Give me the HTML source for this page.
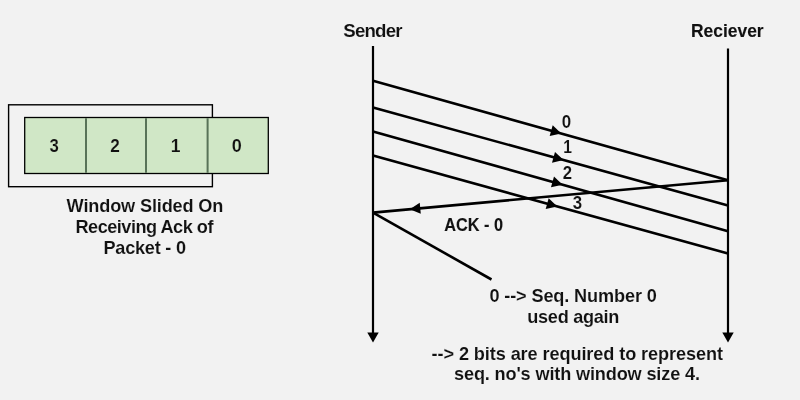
<!DOCTYPE html>
<html><head><meta charset="utf-8"><style>
html,body{margin:0;padding:0;background:#f2f2f2;}
svg{display:block;position:absolute;left:0;top:0;}
.tx{will-change:transform;}
text{font-family:"Liberation Sans", sans-serif;font-weight:700;fill:#111;stroke:#f2f2f2;stroke-width:0.1px;}
text.cell{stroke:#d0e7c6;stroke-width:0.15px;}
text.heavy{stroke:#111;stroke-width:0.12px;}
</style></head><body>
<svg width="800" height="400" viewBox="0 0 800 400">
<rect width="800" height="400" fill="#f2f2f2"/>
<line x1="373" y1="46" x2="373" y2="334" stroke="#000" stroke-width="2.2"/>
<polygon points="367.3,332.6 378.7,332.6 373,342.6" fill="#000"/>
<line x1="728" y1="48.5" x2="728" y2="334" stroke="#000" stroke-width="2.2"/>
<polygon points="722.3,332.6 733.7,332.6 728,342.6" fill="#000"/>
<line x1="373" y1="80.8" x2="728" y2="180.2" stroke="#000" stroke-width="2.6"/>
<line x1="373" y1="107.4" x2="728" y2="205.5" stroke="#000" stroke-width="2.6"/>
<line x1="373" y1="131.4" x2="728" y2="231.3" stroke="#000" stroke-width="2.6"/>
<line x1="373" y1="155.6" x2="728" y2="253.5" stroke="#000" stroke-width="2.6"/>
<line x1="728" y1="180.2" x2="373" y2="212.6" stroke="#000" stroke-width="2.6"/>
<line x1="373" y1="212.6" x2="491.5" y2="279.5" stroke="#000" stroke-width="2.6"/>
<polygon points="561.30,133.52 549.68,136.09 552.70,125.30" fill="#000"/>
<polygon points="563.60,160.07 551.99,162.67 554.97,151.88" fill="#000"/>
<polygon points="562.60,184.76 550.98,187.30 554.01,176.52" fill="#000"/>
<polygon points="557.30,206.43 545.69,209.03 548.67,198.24" fill="#000"/>
<polygon points="409.80,209.24 419.75,202.71 420.77,213.86" fill="#000"/>
<rect x="8.6" y="104.8" width="203.8" height="81.9" fill="none" stroke="#000" stroke-width="1.4"/>
<rect x="24.7" y="117.5" width="243.6" height="56" fill="#d0e7c6" stroke="#000" stroke-width="1.3"/>
<rect x="85" y="118.2" width="2" height="54.6" fill="#587358"/>
<rect x="145" y="118.2" width="2" height="54.6" fill="#587358"/>
<rect x="206.6" y="118.2" width="2" height="54.6" fill="#587358"/>
</svg>
<svg class="tx" width="800" height="400" viewBox="0 0 800 400">
<text x="343.28" y="36.80" font-size="18.70" textLength="59.21" lengthAdjust="spacing">Sender</text>
<text class="heavy" x="690.98" y="36.55" font-size="19.25" textLength="72.65" lengthAdjust="spacingAndGlyphs">Reciever</text>
<text x="561.84" y="127.60" font-size="18.70" textLength="9.43" lengthAdjust="spacingAndGlyphs">0</text>
<text x="563.25" y="153.00" font-size="18.70" textLength="8.71" lengthAdjust="spacingAndGlyphs">1</text>
<text x="562.75" y="179.20" font-size="18.70" textLength="9.32" lengthAdjust="spacingAndGlyphs">2</text>
<text x="572.76" y="208.90" font-size="18.70" textLength="9.38" lengthAdjust="spacingAndGlyphs">3</text>
<text class="heavy" x="444.30" y="231.20" font-size="19.03" textLength="58.78" lengthAdjust="spacingAndGlyphs">ACK - 0</text>
<text x="66.61" y="212.20" font-size="18.15" textLength="156.78" lengthAdjust="spacing">Window Slided On</text>
<text x="75.47" y="232.75" font-size="18.15" textLength="137.99" lengthAdjust="spacing">Receiving Ack of</text>
<text x="103.44" y="253.50" font-size="18.15" textLength="82.57" lengthAdjust="spacing">Packet - 0</text>
<text x="489.46" y="302.00" font-size="18.15" textLength="167.33" lengthAdjust="spacing">0 --&gt; Seq. Number 0</text>
<text x="527.29" y="322.70" font-size="18.15" textLength="92.10" lengthAdjust="spacing">used again</text>
<text x="431.59" y="360.00" font-size="18.15" textLength="291.38" lengthAdjust="spacing">--&gt; 2 bits are required to represent</text>
<text x="454.05" y="380.40" font-size="18.15" textLength="245.89" lengthAdjust="spacing">seq. no's with window size 4.</text>
<text class="cell" x="49.60" y="151.60" font-size="18.04" textLength="9.32" lengthAdjust="spacingAndGlyphs">3</text>
<text class="cell" x="110.13" y="151.60" font-size="18.04" textLength="9.57" lengthAdjust="spacingAndGlyphs">2</text>
<text class="cell" x="170.77" y="151.60" font-size="18.04" textLength="9.74" lengthAdjust="spacingAndGlyphs">1</text>
<text class="cell" x="231.82" y="151.60" font-size="18.04" textLength="10.07" lengthAdjust="spacingAndGlyphs">0</text>
</svg>
</body></html>
